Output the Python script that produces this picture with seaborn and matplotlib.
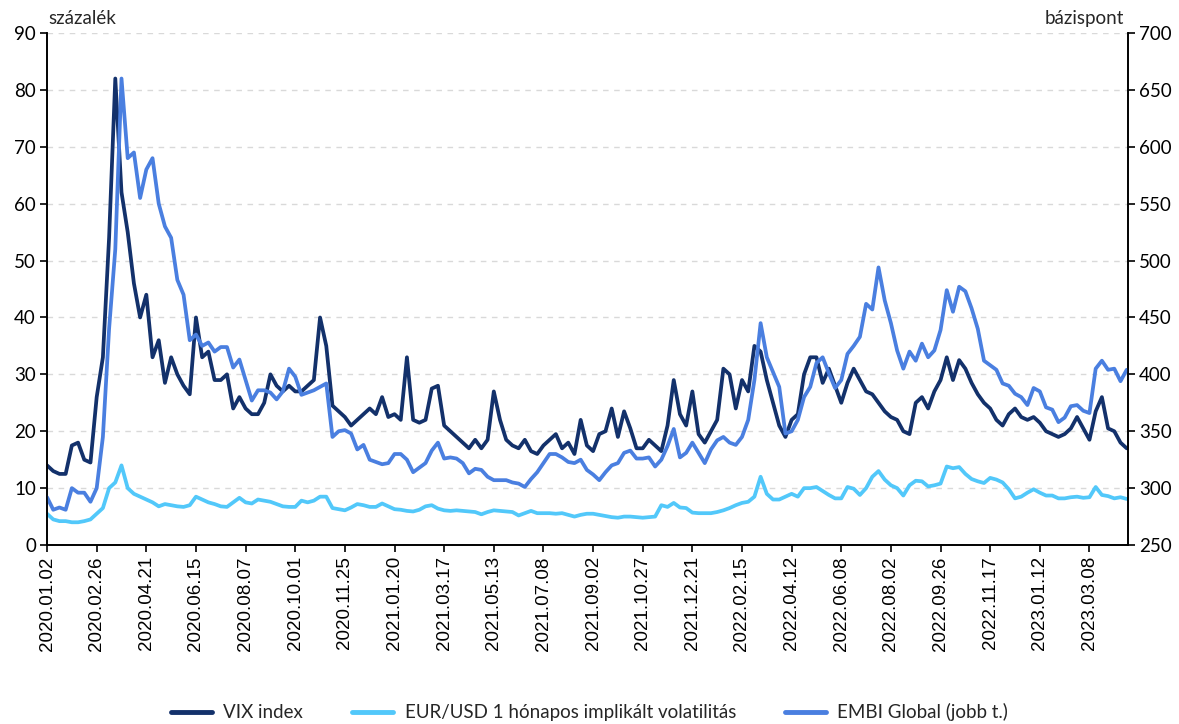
import numpy as np
import pandas as pd
import matplotlib
matplotlib.use("Agg")
import matplotlib.pyplot as plt
import seaborn as sns

# values, one point every 5 business days (0 .. 870)
STEP = 5

vix = [
    14, 13, 12.5, 12.5, 17.5, 18, 15, 14.5, 26, 33,
    54, 82, 62, 55, 46, 40, 44, 33, 36, 28.5,
    33, 30, 28, 26.5, 40, 33, 34, 29, 29, 30,
    24, 26, 24, 23, 23, 25, 30, 28, 27, 28,
    27, 27, 28, 29, 40, 35, 24.5, 23.5, 22.5, 21,
    22, 23, 24, 23, 26, 22.5, 23, 22, 33, 22,
    21.5, 22, 27.5, 28, 21, 20, 19, 18, 17, 18.5,
    17, 18.5, 27, 22, 18.5, 17.5, 17, 18.5, 16.5, 16,
    17.5, 18.5, 19.5, 17, 18, 16, 22, 17.5, 16.5, 19.5,
    20, 24, 19, 23.5, 20.5, 17, 17, 18.5, 17.5, 16.5,
    21, 29, 23, 21, 27, 19.5, 18, 20, 22, 31,
    30, 24, 29, 27, 35, 34, 29, 25, 21, 19,
    22, 23, 30, 33, 33, 28.5, 31, 28, 25, 28.5,
    31, 29, 27, 26.5, 25, 23.5, 22.5, 22, 20, 19.5,
    25, 26, 24, 27, 29, 33, 29, 32.5, 31, 28.5,
    26.5, 25, 24, 22, 21, 23, 24, 22.5, 22, 22.5,
    21.5, 20, 19.5, 19, 19.5, 20.5, 22.5, 20.5, 18.5, 23.5,
    26, 20.5, 20, 18, 17,
]

eurusd_vol = [
    5.5, 4.5, 4.2, 4.2, 4.0, 4.0, 4.2, 4.5, 5.5, 6.5,
    10, 11, 14, 10, 9, 8.5, 8, 7.5, 6.8, 7.2,
    7, 6.8, 6.7, 7, 8.5, 8, 7.5, 7.2, 6.8, 6.7,
    7.5, 8.3, 7.5, 7.3, 8, 7.8, 7.6, 7.2, 6.8, 6.7,
    6.7, 7.8, 7.5, 7.8, 8.5, 8.5, 6.5, 6.3, 6.1, 6.6,
    7.2, 7, 6.7, 6.7, 7.3, 6.8, 6.3, 6.2, 6, 5.9,
    6.2, 6.8, 7, 6.4, 6.1, 6, 6.1, 6, 5.9, 5.8,
    5.4, 5.8, 6.1, 6, 5.9, 5.8, 5.2, 5.6, 6, 5.6,
    5.6, 5.6, 5.5, 5.6, 5.3, 5.0, 5.3, 5.5, 5.5, 5.3,
    5.1, 4.9, 4.8, 5.0, 5.0, 4.9, 4.8, 4.9, 5.0, 7.0,
    6.7, 7.4, 6.6, 6.5, 5.7, 5.6, 5.6, 5.6, 5.8, 6.1,
    6.5, 7.0, 7.4, 7.6, 8.5, 12, 9, 8, 8, 8.5,
    9, 8.5, 10, 10, 10.2, 9.5, 8.8, 8.2, 8.2, 10.2,
    9.9, 8.8, 10, 12, 13, 11.5, 10.5, 10, 8.7, 10.5,
    11.3, 11.2, 10.3, 10.5, 10.8, 13.8, 13.5, 13.7, 12.5, 11.6,
    11.2, 10.9, 11.8, 11.5, 11, 9.8, 8.2, 8.5, 9.2, 9.8,
    9.2, 8.7, 8.7, 8.2, 8.2, 8.4, 8.5, 8.3, 8.4, 10.2,
    8.8, 8.6, 8.2, 8.4, 8.1,
]

embi = [
    292, 281, 283, 281, 300, 296, 296, 288, 300, 345,
    440, 510, 660, 590, 595, 555, 580, 590, 550, 530,
    520, 483, 470, 430, 435, 425, 428, 420, 424, 424,
    406, 413, 395, 377, 386, 386, 384, 378, 385, 405,
    398, 382, 384, 386, 389, 392, 345, 350, 351, 348,
    334, 338, 325, 323, 321, 322, 330, 330, 325, 314,
    318, 322, 333, 340, 326, 327, 326, 322, 313, 317,
    316, 310, 307, 307, 307, 305, 304, 301, 308, 314,
    322, 330, 330, 327, 323, 322, 325, 316, 312, 307,
    314, 320, 322, 331, 333, 326, 326, 327, 319, 325,
    337, 352, 327, 331, 340, 331, 322, 334, 342, 345,
    340, 338, 345, 360, 395, 445, 415, 402, 389, 348,
    350, 360, 380, 389, 410, 415, 401, 388, 395, 418,
    425, 433, 462, 457, 494, 465, 445, 421, 405, 420,
    412, 427, 415, 421, 439, 474, 455, 477, 473, 458,
    440, 412, 408, 404, 392, 390, 383, 380, 373, 388,
    385, 371, 369, 358, 362, 372, 373, 368, 366, 405,
    412, 404, 405, 394, 404,
]

# category axis: a label every 40 business days
TICK_EVERY = 40
tick_labels = [
    "2020.01.02", "2020.02.26", "2020.04.21", "2020.06.15", "2020.08.07",
    "2020.10.01", "2020.11.25", "2021.01.20", "2021.03.17", "2021.05.13",
    "2021.07.08", "2021.09.02", "2021.10.27", "2021.12.21", "2022.02.15",
    "2022.04.12", "2022.06.08", "2022.08.02", "2022.09.26", "2022.11.17",
    "2023.01.12", "2023.03.08",
]

names = ["VIX index", "EUR/USD 1 hónapos implikált volatilitás", "EMBI Global (jobb t.)"]
colors = ["#13316b", "#52c8fa", "#4a7fe0"]

df = pd.DataFrame({
    "day": np.arange(len(vix)) * STEP,
    names[0]: vix,
    names[1]: eurusd_vol,
    names[2]: embi,
})

sns.set_style("ticks")
plt.rcParams["font.family"] = ["Lato", "DejaVu Sans"]

fig = plt.figure(figsize=(11.79, 7.24), dpi=100)
ax = fig.add_axes([0.0399, 0.2472, 0.9168, 0.7072])
ax2 = ax.twinx()

lw = 2.7
sns.lineplot(data=df, x="day", y=names[1], ax=ax, color=colors[1], lw=lw)
sns.lineplot(data=df, x="day", y=names[0], ax=ax, color=colors[0], lw=lw)
sns.lineplot(data=df, x="day", y=names[2], ax=ax2, color=colors[2], lw=lw)

ax.set_xlim(0, 871)
ax.set_ylim(0, 90)
ax.set_yticks(np.arange(0, 91, 10))
ax2.set_ylim(250, 700)
ax2.set_yticks(np.arange(250, 701, 50))

ax.set_xticks(np.arange(len(tick_labels)) * TICK_EVERY)
ax.set_xticklabels(tick_labels, rotation=90, fontsize=13.5,
                   family=["Liberation Sans", "DejaVu Sans"])
ax.set_xlabel("")
ax.set_ylabel("")
ax2.set_ylabel("")

ax.yaxis.grid(True, linestyle=(0, (4, 4)), color="#d9d9d9", lw=1)
ax.set_axisbelow(True)

for a in (ax, ax2):
    a.spines["top"].set_visible(False)
    for s in ("left", "right", "bottom"):
        a.spines[s].set_color("black")
        a.spines[s].set_linewidth(1.2)
    a.tick_params(axis="both", direction="out", length=5, width=1.2,
                  colors="black", labelsize=13.5, pad=3)

fig.text(0.041, 0.975, "százalék", fontsize=13.5, ha="left", va="center")
fig.text(0.953, 0.975, "bázispont", fontsize=13.5, ha="right", va="center")

handles = [plt.Line2D([], [], color=c, lw=3.5) for c in colors]
fig.legend(handles, names, loc="center", bbox_to_anchor=(0.5, 0.016), ncol=3,
           frameon=False, fontsize=13.5, handlelength=2.2, columnspacing=2.6,
           handletextpad=0.6)

fig.savefig("out.png", dpi=100)
